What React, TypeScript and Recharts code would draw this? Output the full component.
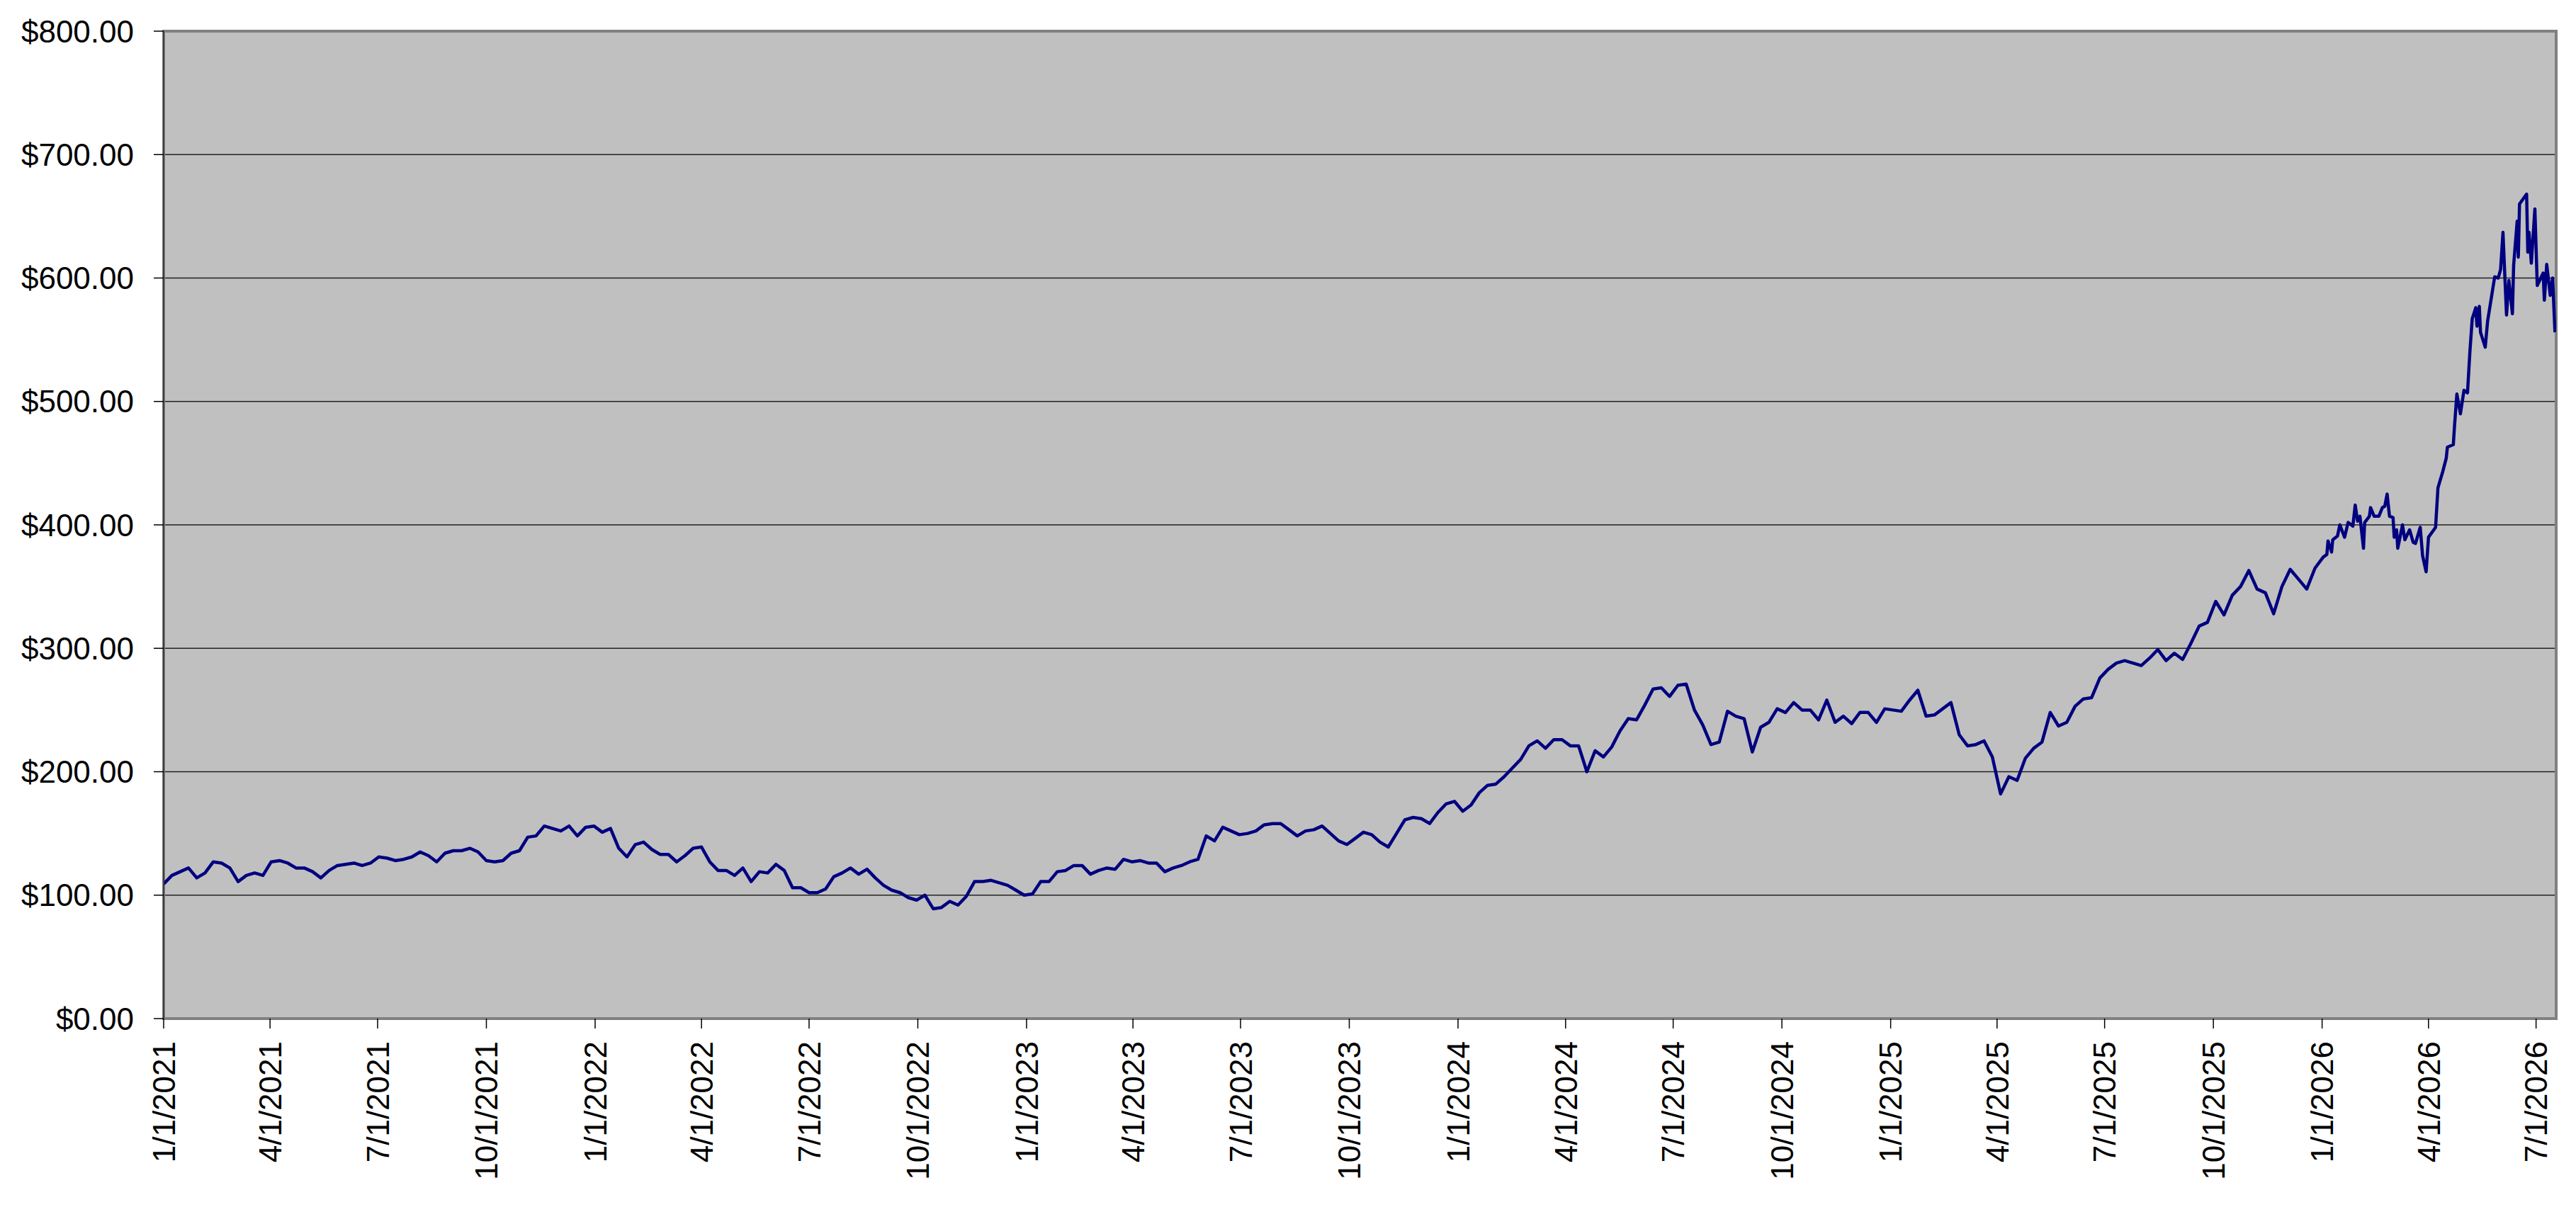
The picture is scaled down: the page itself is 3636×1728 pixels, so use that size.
import React from 'react';
import {
  LineChart,
  Line,
  XAxis,
  YAxis,
  CartesianGrid,
  ReferenceArea
} from 'recharts';

// weekly closes, first one on 1/1/2021, one value every 7 days
const closes2021 = [
  109, 116, 119, 122, 114, 118, 127, 126, 122, 111, 116, 118, 116, 127, 128, 126, 122, 122,
  119, 114, 120, 124, 125, 126, 124, 126, 131, 130, 128, 129, 131, 135, 132, 127, 134, 136,
  136, 138, 135, 128, 127, 128, 134, 136, 147, 148, 156, 154, 152, 156, 148, 155, 156
];
const closes2022 = [
  151, 154, 138, 131, 141, 143, 137, 133, 133, 127, 132, 138, 139, 127, 120, 120, 116, 122,
  111, 119, 118, 125, 120, 106, 106, 102, 102, 105, 115, 118, 122, 117, 121, 114, 108, 104,
  102, 98, 96, 100, 89, 90, 95, 92, 99, 111, 111, 112, 110, 108, 104, 100
];
const closes2023 = [
  101, 111, 111, 119, 120, 124, 124, 117, 120, 122, 121, 129, 127, 128, 126, 126, 119, 122,
  124, 127, 129, 148, 144, 155, 152, 149, 150, 152, 157, 158, 158, 153, 148, 152, 153, 156,
  150, 144, 141, 146, 151, 149, 143, 139, 150, 161, 163, 162, 158, 167, 174, 176
];
const closes2024 = [
  168, 173, 183, 189, 190, 196, 203, 210, 221, 225, 219, 226, 226, 221, 221, 200, 217, 212,
  220, 233, 243, 242, 254, 267, 268, 261, 270, 271, 250, 238, 222, 224, 249, 245, 243, 216,
  236, 240, 251, 248, 256, 250, 250, 242, 258, 240, 245, 239, 248, 248, 240, 251
];
const closes2025 = [
  250, 249, 258, 266, 245, 246, 251, 256, 230, 221, 222, 225, 212, 182, 196, 193, 211, 219,
  224, 248, 237, 240, 253, 259, 260, 276, 283, 288, 290, 288, 286, 292, 299, 290, 296, 291,
  304, 318, 321, 338, 327, 343, 350, 363, 348, 345, 328, 350, 364, 356, 348, 365, 374
];

// 2026 is busier, so it is kept with its own dates
const dates2026 = [
  '1/5/2026', '1/6/2026', '1/9/2026', '1/10/2026', '1/14/2026', '1/16/2026', '1/20/2026',
  '1/23/2026', '1/27/2026', '1/29/2026', '1/31/2026', '2/2/2026', '2/5/2026', '2/6/2026',
  '2/10/2026', '2/11/2026', '2/14/2026', '2/18/2026', '2/21/2026', '2/23/2026', '2/25/2026',
  '2/27/2026', '3/2/2026', '3/3/2026', '3/5/2026', '3/6/2026', '3/10/2026', '3/12/2026',
  '3/16/2026', '3/19/2026', '3/21/2026', '3/25/2026', '3/27/2026', '3/30/2026', '4/1/2026',
  '4/7/2026', '4/9/2026', '4/13/2026', '4/16/2026', '4/17/2026', '4/22/2026', '4/23/2026',
  '4/25/2026', '4/28/2026', '5/1/2026', '5/4/2026', '5/6/2026', '5/8/2026', '5/11/2026',
  '5/12/2026', '5/14/2026', '5/15/2026', '5/19/2026', '5/21/2026', '5/25/2026', '5/27/2026',
  '5/30/2026', '6/1/2026', '6/3/2026', '6/6/2026', '6/8/2026', '6/11/2026', '6/12/2026',
  '6/15/2026', '6/16/2026', '6/17/2026', '6/23/2026', '6/24/2026', '6/25/2026', '6/27/2026',
  '6/30/2026', '7/2/2026', '7/4/2026', '7/7/2026', '7/8/2026', '7/10/2026', '7/13/2026',
  '7/15/2026', '7/17/2026'
];
const closes2026 = [
  376, 387, 378, 388, 391, 400, 390,
  402, 399, 416, 403, 407, 381, 402,
  407, 414, 407, 407, 414, 415, 425,
  407, 406, 390, 396, 381, 400, 388,
  396, 386, 385, 398, 375, 362, 390,
  398, 430, 443, 454, 463, 465, 480,
  506, 490, 509, 507, 540, 567, 576,
  561, 577, 556, 544, 565, 589, 601,
  600, 607, 637, 570, 598, 571, 610,
  646, 617, 660, 668, 621, 637, 612,
  656, 594, 598, 604, 582, 611, 586,
  600, 556
];

const tickDates = [
  '1/1/2021', '4/1/2021', '7/1/2021', '10/1/2021',
  '1/1/2022', '4/1/2022', '7/1/2022', '10/1/2022',
  '1/1/2023', '4/1/2023', '7/1/2023', '10/1/2023',
  '1/1/2024', '4/1/2024', '7/1/2024', '10/1/2024',
  '1/1/2025', '4/1/2025', '7/1/2025', '10/1/2025',
  '1/1/2026', '4/1/2026', '7/1/2026'
];
const priceTicks = [0, 100, 200, 300, 400, 500, 600, 700, 800];

const DAY = 24 * 60 * 60 * 1000;

const parseDate = (s: string): number => {
  const [m, d, y] = s.split('/').map(Number);
  return Date.UTC(y, m - 1, d);
};

const formatDate = (t: number): string => {
  const d = new Date(t);
  return `${d.getUTCMonth() + 1}/${d.getUTCDate()}/${d.getUTCFullYear()}`;
};

const formatPrice = (v: number): string => `$${v.toFixed(2)}`;

const firstWeek = parseDate('1/1/2021');
const lastDay = parseDate('7/18/2026');

const weeklyCloses = [...closes2021, ...closes2022, ...closes2023, ...closes2024, ...closes2025];
const data = [
  ...weeklyCloses.map((close, i) => ({ t: firstWeek + i * 7 * DAY, close })),
  ...dates2026.map((d, i) => ({ t: parseDate(d), close: closes2026[i] }))
];

const FONT = '"Liberation Sans", Arial, sans-serif';

const DateTick = ({ x, y, payload }: any) => (
  <g transform={`translate(${x},${y})`}>
    <text
      x={0}
      y={0}
      dy="0.36em"
      textAnchor="end"
      transform="rotate(-90)"
      fill="#000"
      fontSize={44}
      fontFamily={FONT}
    >
      {formatDate(payload.value)}
    </text>
  </g>
);

export default function App() {
  return (
    <LineChart
      width={3620}
      height={1712}
      data={data}
      margin={{ top: 36, right: 20, bottom: 10, left: 10 }}
    >
      <CartesianGrid
        vertical={false}
        stroke="#222"
        strokeWidth={1.5}
        fill="#C0C0C0"
        fillOpacity={1}
      />
      <XAxis
        dataKey="t"
        type="number"
        domain={[firstWeek, lastDay]}
        ticks={tickDates.map(parseDate)}
        allowDataOverflow
        interval={0}
        height={272}
        tickSize={14}
        tickMargin={18}
        axisLine={false}
        tickLine={{ stroke: '#000', strokeWidth: 1.5 }}
        tick={<DateTick />}
      />
      <YAxis
        type="number"
        domain={[0, 800]}
        ticks={priceTicks}
        interval={0}
        width={213}
        tickSize={14}
        tickMargin={28}
        axisLine={{ stroke: '#404040', strokeWidth: 2 }}
        tickLine={{ stroke: '#000', strokeWidth: 1.5 }}
        tickFormatter={formatPrice}
        tick={{ fill: '#000', fontSize: 44, fontFamily: FONT }}
      />
      <ReferenceArea
        x1={firstWeek}
        x2={lastDay}
        y1={0}
        y2={800}
        fill="none"
        stroke="#808080"
        strokeWidth={4}
        ifOverflow="extendDomain"
      />
      <Line
        type="linear"
        dataKey="close"
        stroke="#000080"
        strokeWidth={4.5}
        strokeLinejoin="round"
        dot={false}
        isAnimationActive={false}
      />
    </LineChart>
  );
}
